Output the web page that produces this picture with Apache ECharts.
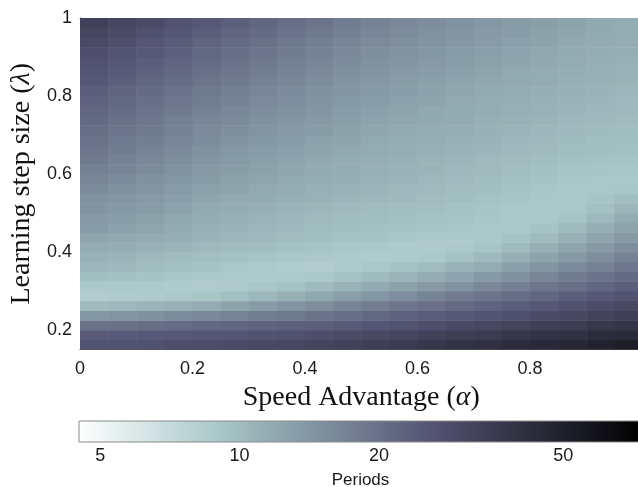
<!DOCTYPE html>
<html><head><meta charset="utf-8">
<script src="https://cdn.jsdelivr.net/npm/echarts@6/dist/echarts.min.js"></script>
<style>html,body{margin:0;padding:0;background:#fff}#c{width:638px;height:487px}</style>
</head><body><div id="c"></div>
<script>
// Speed advantage (alpha) cell centres
const alphaValues = [0.025,0.075,0.125,0.175,0.225,0.275,0.325,0.375,0.425,0.475,0.525,0.575,0.625,0.675,0.725,0.775,0.825,0.875,0.925,0.975];
// Learning step size (lambda) cell centres
const lambdaValues = [0.1625,0.1875,0.2125,0.2375,0.2625,0.2875,0.3125,0.3375,0.3625,0.3875,0.4125,0.4375,0.4625,0.4875,0.5125,0.5375,0.5625,0.5875,0.6125,0.6375,0.6625,0.6875,0.7125,0.7375,0.7625,0.7875,0.8125,0.8375,0.8625,0.8875,0.9125,0.9375,0.9625,0.9875];
// Periods, one row per lambda value (bottom to top), one column per alpha value
const periods = [
[26.5,26.9,27.2,28,28.4,29.1,29.8,30.5,31.6,32.7,34.2,35.6,37.1,38.9,40.7,42.5,44.3,46,48.5,51],
[24.2,24.4,24.7,25,25.3,25.7,26.5,27.2,27.9,29,30.2,31.2,32.7,34.2,35.6,37.1,38.9,40.7,42.5,43.9],
[19.6,20,20.4,20.8,21.4,21.9,22.5,23.1,23.8,24.6,25.6,26.7,27.9,29.2,30.5,31.8,33.5,34.9,36.7,38.2],
[14.2,14.5,14.9,15.5,16.1,16.9,17.7,18.5,19.4,20.4,21.5,22.7,23.8,25,26.1,27.4,28.9,30.5,32.2,33.8],
[10.1,10.3,10.7,11.1,11.7,12.5,13.4,14.3,15.3,16.5,17.7,18.9,20,21.2,22.3,23.7,25.2,26.8,28.5,30.2],
[8.4,8.5,8.6,8.8,9.1,9.7,10.4,11.2,12.1,13.2,14.2,15.4,16.7,17.9,19.2,20.6,22,23.6,25,26.5],
[8.8,8.8,8.7,8.5,8.5,8.7,9,9.4,10.1,10.9,11.8,12.8,13.8,14.9,16.1,17.5,18.9,20.2,21.8,23.5],
[9.7,9.5,9.3,9,8.8,8.7,8.6,8.7,8.9,9.4,10.1,10.7,11.6,12.6,13.7,15,16.4,17.9,19.5,21.2],
[10.5,10.3,9.9,9.6,9.3,8.9,8.7,8.5,8.4,8.6,8.9,9.4,10,10.8,11.7,13,14.3,15.7,17.2,18.9],
[10.9,10.7,10.3,10,9.7,9.4,9.2,8.9,8.8,8.6,8.5,8.6,8.8,9.4,10.2,11.3,12.5,13.8,15.3,16.9],
[11.7,11.4,11.1,10.7,10.3,10,9.8,9.5,9.3,9,8.8,8.6,8.6,8.8,9.2,10.1,11.2,12.4,13.8,15.3],
[12.5,12.1,11.7,11.3,10.8,10.4,10.2,9.9,9.7,9.4,9.3,9,8.8,8.7,8.8,9.3,10.1,11.2,12.4,13.8],
[13.4,12.9,12.4,11.8,11.2,10.8,10.5,10.3,10,9.8,9.5,9.4,9.2,9,8.8,8.8,9.3,10.1,11.3,12.5],
[13.8,13.3,12.8,12.2,11.6,11.2,10.8,10.5,10.2,9.9,9.8,9.6,9.4,9.3,9,8.8,8.8,9.3,10.3,11.6],
[14.5,13.9,13.4,12.7,12,11.6,11.2,10.8,10.5,10.3,10,9.8,9.7,9.4,9.2,8.9,8.8,8.9,9.6,10.6],
[14.9,14.3,13.8,13.1,12.4,12,11.6,11.3,10.9,10.6,10.4,10.2,9.9,9.7,9.4,9.2,8.9,8.8,9.2,9.8],
[15.7,15,14.3,13.6,12.9,12.4,12,11.7,11.2,10.9,10.7,10.4,10.2,9.9,9.7,9.3,9.1,8.9,8.9,9.1],
[16.5,15.7,14.9,14.2,13.4,12.8,12.4,12,11.6,11.3,10.9,10.7,10.4,10.2,9.9,9.6,9.3,9.1,8.9,8.8],
[17.3,16.5,15.6,14.7,13.8,13.3,12.8,12.3,11.8,11.5,11.2,10.9,10.7,10.4,10.2,9.9,9.6,9.3,9.2,9],
[18.1,17.2,16.2,15.3,14.3,13.7,13.1,12.6,12.1,11.7,11.4,11.2,10.8,10.6,10.3,10.1,9.8,9.6,9.4,9.3],
[18.9,17.9,16.8,15.8,14.8,14.1,13.5,13,12.5,12.1,11.7,11.4,11.1,10.8,10.6,10.3,10.1,9.8,9.7,9.5],
[19.6,18.6,17.6,16.5,15.4,14.6,14,13.4,12.9,12.5,12,11.7,11.4,11.1,10.8,10.5,10.3,10.1,9.8,9.7],
[20.4,19.3,18.2,17.1,15.9,15.1,14.5,13.8,13.4,12.8,12.3,12,11.7,11.4,11.1,10.8,10.5,10.3,10.1,9.9],
[21.2,19.9,18.7,17.5,16.4,15.6,14.9,14.3,13.8,13.2,12.6,12.2,11.9,11.6,11.2,10.9,10.7,10.4,10.3,10.1],
[21.9,20.7,19.4,18.3,17.1,16.2,15.4,14.8,14.2,13.5,12.9,12.5,12.1,11.8,11.5,11.2,10.9,10.7,10.4,10.3],
[22.7,21.4,20.1,18.9,17.7,16.8,15.9,15.2,14.5,13.9,13.3,12.9,12.5,12,11.7,11.4,11.1,10.8,10.6,10.4],
[23.8,22.4,21,19.7,18.5,17.5,16.5,15.7,14.9,14.3,13.7,13.2,12.7,12.3,11.9,11.6,11.3,11.1,10.8,10.6],
[25,23.5,22,20.6,19.2,18.2,17.1,16.3,15.4,14.7,14.1,13.5,13,12.6,12.2,11.9,11.6,11.2,11,10.8],
[25.7,24.2,22.7,21.4,20,18.9,17.8,16.8,15.9,15.1,14.4,13.8,13.4,12.9,12.5,12,11.7,11.4,11.2,10.9],
[26.8,25.3,23.8,22.3,20.9,19.6,18.5,17.5,16.6,15.7,14.9,14.3,13.8,13.3,12.8,12.4,12,11.7,11.3,11.1],
[27.9,26.3,24.7,23.2,21.6,20.3,19.1,18,17,16.1,15.3,14.7,14.2,13.6,13.1,12.6,12.2,11.8,11.5,11.3],
[29.4,27.5,25.7,24,22.4,21,19.8,18.6,17.5,16.6,15.7,15.1,14.5,14,13.4,12.9,12.5,12,11.7,11.4],
[30.9,28.9,27.1,25.3,23.6,22.1,20.8,19.5,18.3,17.3,16.4,15.6,14.9,14.3,13.8,13.3,12.8,12.3,11.9,11.6],
[33.1,30.9,28.9,26.9,25,23.4,21.9,20.5,19.2,18,16.9,16.1,15.4,14.7,14.1,13.5,13.1,12.5,12.1,11.7]
];
const xTickValues = [0, 0.2, 0.4, 0.6, 0.8, 1];
const yTickValues = [0.2, 0.4, 0.6, 0.8, 1];
const colorbarTicks = [5, 10, 20, 50];
const colorRange = [4.5, 74];
// flipped "bone" colormap: low periods white, high periods black
const boneReversed = ['#ffffff','#d3e3e3','#a7c7c7','#8ba1ab','#707a8f','#545474','#38384d','#1c1c27','#000000'];

const DX = alphaValues[1] - alphaValues[0];
const DY = lambdaValues[1] - lambdaValues[0];
const cells = [];
lambdaValues.forEach((lam, i) => {
  alphaValues.forEach((a, j) => {
    const v = periods[i][j];
    cells.push([a, lam, v, Math.log(v)]);
  });
});

const sans = 'Liberation Sans, Arial, Helvetica, sans-serif';
const serif = 'Liberation Serif, Times New Roman, serif';
const tickLabel = { color: '#1a1a1a', fontSize: 18, fontFamily: sans };

const chart = echarts.init(document.getElementById('c'), null, { renderer: 'canvas' });
chart.setOption({
  backgroundColor: '#ffffff',
  animation: false,
  grid: [
    { left: 80, top: 18, width: 562.5, height: 331.5, outerBoundsMode: 'none', containLabel: false },
    { left: 79, top: 421, width: 563, height: 21, outerBoundsMode: 'none', containLabel: false }
  ],
  visualMap: {
    type: 'continuous', show: false, seriesIndex: 0, dimension: 3,
    min: Math.log(colorRange[0]), max: Math.log(colorRange[1]),
    inRange: { color: boneReversed }
  },
  xAxis: [
    {
      gridIndex: 0, type: 'value', position: 'bottom', min: 0, max: 1, interval: 0.2,
      axisLine: { show: true, onZero: false, lineStyle: { color: '#555', width: 1 } },
      axisTick: { show: true, inside: true, length: 5, lineStyle: { color: '#444' } },
      axisLabel: Object.assign({ margin: 11, formatter: v => String(+v.toFixed(1)) }, tickLabel),
      splitLine: { show: false },
      name: 'Speed Advantage ({i|α})', nameLocation: 'middle', nameGap: 29,
      nameTextStyle: { fontFamily: serif, fontSize: 28, color: '#111',
        rich: { i: { fontFamily: serif, fontSize: 28, fontStyle: 'italic', color: '#111' } } }
    },
    {
      gridIndex: 0, type: 'value', position: 'top', min: 0, max: 1, interval: 0.2,
      axisLine: { show: true, onZero: false, lineStyle: { color: '#888', width: 1 } },
      axisTick: { show: true, inside: true, length: 5, lineStyle: { color: '#444' } },
      axisLabel: { show: false }, splitLine: { show: false }
    },
    {
      gridIndex: 1, type: 'log', logBase: 10, position: 'bottom', min: colorRange[0], max: colorRange[1],
      axisLine: { show: false },
      axisTick: { show: true, inside: true, length: 4, customValues: colorbarTicks, lineStyle: { color: '#555' } },
      axisLabel: Object.assign({ margin: 5, customValues: colorbarTicks, formatter: v => String(Math.round(v)) }, tickLabel),
      splitLine: { show: false },
      name: 'Periods', nameLocation: 'middle', nameGap: 30,
      nameTextStyle: { fontFamily: sans, fontSize: 17, color: '#1a1a1a' }
    }
  ],
  yAxis: [
    {
      gridIndex: 0, type: 'value', min: 0.15, max: 1,
      axisLine: { show: true, onZero: false, lineStyle: { color: '#555', width: 1 } },
      axisTick: { show: true, inside: true, length: 5, customValues: yTickValues, lineStyle: { color: '#444' } },
      axisLabel: Object.assign({ margin: 8, customValues: yTickValues, formatter: v => String(+v.toFixed(1)) }, tickLabel),
      splitLine: { show: false },
      name: 'Learning step size ({i|λ})', nameLocation: 'middle', nameGap: 43,
      nameTextStyle: { fontFamily: serif, fontSize: 28, color: '#111',
        rich: { i: { fontFamily: serif, fontSize: 28, fontStyle: 'italic', color: '#111' } } }
    },
    { gridIndex: 1, type: 'value', min: 0, max: 1, show: false }
  ],
  series: [
    {
      type: 'custom', xAxisIndex: 0, yAxisIndex: 0, data: cells, clip: true, silent: true,
      encode: { x: 0, y: 1 },
      renderItem: function (params, api) {
        const a = api.value(0), l = api.value(1);
        const p0 = api.coord([a - DX / 2, l + DY / 2]);
        const p1 = api.coord([a + DX / 2, l - DY / 2]);
        return {
          type: 'rect',
          shape: { x: p0[0], y: p0[1], width: p1[0] - p0[0] + 0.6, height: p1[1] - p0[1] + 0.6 },
          style: { fill: api.visual('color') }
        };
      }
    },
    {
      type: 'custom', xAxisIndex: 2, yAxisIndex: 1, silent: true,
      data: [[colorRange[0], colorRange[1]]],
      encode: { x: [0, 1] },
      renderItem: function (params, api) {
        const p0 = api.coord([api.value(0), 1]);
        const p1 = api.coord([api.value(1), 0]);
        return {
          type: 'rect',
          shape: { x: p0[0], y: p0[1], width: p1[0] - p0[0], height: p1[1] - p0[1] },
          style: {
            fill: new echarts.graphic.LinearGradient(0, 0, 1, 0,
              boneReversed.map((c, i) => ({ offset: i / (boneReversed.length - 1), color: c }))),
            stroke: '#8a8a8a', lineWidth: 1
          }
        };
      }
    }
  ]
});
</script>
</body></html>
